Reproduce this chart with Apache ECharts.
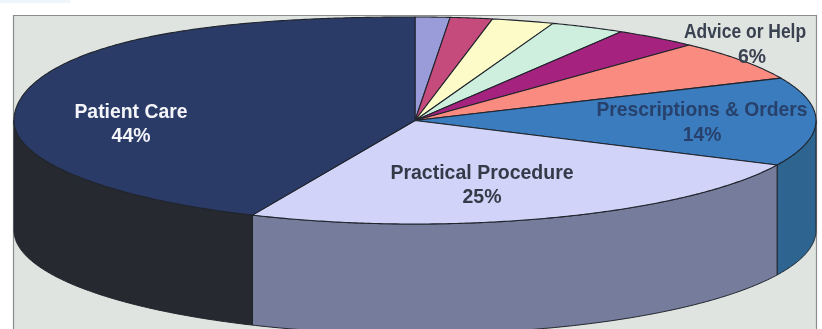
<!DOCTYPE html>
<html>
<head>
<meta charset="utf-8">
<style>html,body{margin:0;padding:0;background:#fff}#c{width:822px;height:329px;filter:blur(0.5px)}</style>
<script src="https://cdn.jsdelivr.net/npm/echarts@6/dist/echarts.min.js"></script>
</head>
<body>
<div id="c"></div>
<script>
// Data: slices clockwise from 12 o'clock
const categories = ['Slice A','Slice B','Slice C','Slice D','Slice E','Advice or Help','Prescriptions & Orders','Practical Procedure','Patient Care'];
const values = [1.4, 1.7, 2.5, 3.0, 3.4, 6.3, 13.8, 24.6, 43.4];
const percentLabels = ['', '', '', '', '', '6%', '14%', '25%', '44%'];
const topColors = ['#9a9bd9','#c64b7d','#fdfcc8','#cfefde','#a5237f','#f98b80','#3a7cbd','#d1d4f8','#2b3b68'];
const sideColors = ['#5f6088','#7c2e4e','#a0a07d','#82968c','#68164f','#9c5750','#2d6590','#767c9c','#262a30'];
const labelColors = ['', '', '', '', '', '#3a4150', '#27416c', '#333a48', '#f4f5f8'];

// Style / layout
const CX = 415, CY = 120.5, RX = 401, RY = 103.5, DEPTH = 110;
const EDGE = '#20242c';
const nameAt = {5:[745,33], 6:[702,111], 7:[482,173.5], 8:[131,112.5]};
const pctAt = {5:[752,58], 6:[702,135.5], 7:[482,198], 8:[131,137]};
const nameSize = {5:19.4, 6:19.3, 7:19.5, 8:19.4};
const nameScaleX = {5:0.9, 6:1, 7:1, 8:1};

const total = values.reduce((a,b)=>a+b,0);
const starts = []; let acc = 0;
values.forEach(v => { starts.push(acc/total*360); acc += v; });
// The photographed pie bulges slightly at its upper-left; the warp follows that rim.
const bulge = deg => {
  if (deg <= 270 || deg >= 360) return 0;
  const t = (deg-270)*Math.PI/180;
  return -8.5*Math.sin(2*t)*Math.pow(Math.cos(t),0.8);
};
const P = (deg, dy) => { const r = deg*Math.PI/180; return [CX+RX*Math.sin(r), CY-RY*Math.cos(r)+bulge(deg)+(dy||0)]; };
const arc = (a,b,dy) => { const n = Math.max(2,Math.ceil(Math.abs(b-a))*2), o=[]; for(let i=0;i<=n;i++) o.push(P(a+(b-a)*i/n,dy)); return o; };

function renderSide(params, api){
  const i = params.dataIndex, a = starts[i], b = a + api.value(0)/total*360;
  const lo = Math.max(a,90), hi = Math.min(b,270);
  if (hi <= lo) return {type:'group',children:[]};
  const pts = arc(lo,hi,0).concat(arc(hi,lo,DEPTH));
  return {type:'polygon',shape:{points:pts},style:{fill:sideColors[i],stroke:EDGE,lineWidth:1}};
}
function renderTop(params, api){
  const i = params.dataIndex, a = starts[i], b = a + api.value(0)/total*360;
  const pts = [[CX,CY]].concat(arc(a,b,0));
  return {type:'polygon',shape:{points:pts},style:{fill:topColors[i],stroke:EDGE,lineWidth:1.1,lineJoin:'round'}};
}
function renderLabel(params, api){
  const i = params.dataIndex;
  if (!nameAt[i]) return {type:'group',children:[]};
  const font = 'bold '+nameSize[i]+'px "Liberation Sans", Arial, sans-serif';
  return {type:'group',children:[
    {type:'text',x:nameAt[i][0],y:nameAt[i][1],scaleX:nameScaleX[i],z2:10,style:{
      text:categories[i],fill:labelColors[i],font,align:'center',verticalAlign:'middle'}},
    {type:'text',x:pctAt[i][0],y:pctAt[i][1],z2:10,style:{
      text:percentLabels[i],fill:labelColors[i],font,align:'center',verticalAlign:'middle'}}
  ]};
}
const rows = values.map((v,i)=>({name:categories[i],value:[v]}));
const chart = echarts.init(document.getElementById('c'),null,{renderer:'canvas'});
chart.setOption({
  animation:false,
  backgroundColor:'#ffffff',
  graphic:[
    {type:'rect',silent:true,z:-1,shape:{x:0,y:0,width:70,height:3},style:{fill:'#eef6fb'}},
    {type:'rect',silent:true,z:-1,shape:{x:13.5,y:15.5,width:803,height:330},style:{fill:'#dfe4e0',stroke:'#8b8d8d',lineWidth:1.2}}
  ],
  series:[
    {type:'custom',coordinateSystem:'none',data:rows,renderItem:renderSide,z:2,silent:true},
    {type:'custom',coordinateSystem:'none',data:rows,renderItem:renderTop,z:3,silent:true},
    {type:'custom',coordinateSystem:'none',data:rows,renderItem:renderLabel,z:4,silent:true}
  ]
});
</script>
</body>
</html>
